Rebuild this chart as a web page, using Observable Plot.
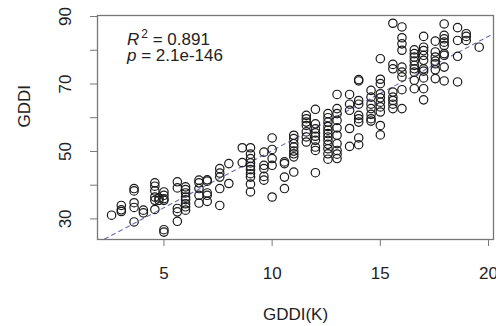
<!DOCTYPE html>
<html><head><meta charset="utf-8">
<script src="https://cdn.jsdelivr.net/npm/d3@7"></script>
<script src="https://cdn.jsdelivr.net/npm/@observablehq/plot@0.6"></script>
<style>body{margin:0;background:#fff} svg{display:block}</style>
</head><body><div id="chart"></div>
<script>
// GDDI(K) levels (x) and the GDDI values observed at each level (y)
const xLevels = [2.58, 3.03, 3.62, 4.05, 4.58, 4.77, 5.0, 5.62, 6.0, 6.62, 7.0, 7.58, 8.0, 8.62, 9.0, 9.62, 10.0, 10.57, 11.0, 11.58, 12.0, 12.58, 13.0, 13.58, 14.0, 14.57, 15.0, 15.58, 16.0, 16.57, 17.0, 17.54, 17.95, 18.57, 18.97, 19.57];
const yValues = [
  [31.1],
  [34.0, 32.7, 32.2],
  [39.0, 38.3, 34.8, 33.4, 29.1],
  [32.6, 31.8],
  [40.7, 39.7, 38.3, 36.5, 35.5, 32.8],
  [36.2, 35.5],
  [38.0, 37.0, 36.0, 35.5, 26.8, 26.1],
  [41.0, 39.2, 33.1, 32.1, 29.3],
  [39.5, 38.7, 37.7, 36.5, 35.7, 34.5, 33.6, 32.6],
  [41.5, 40.7, 39.0, 37.0, 34.7],
  [41.6, 41.2, 37.7, 37.0, 35.2],
  [44.9, 43.6, 42.4, 39.0, 34.0],
  [46.4, 40.5],
  [51.1, 46.7],
  [51.1, 49.2, 47.9, 46.6, 45.6, 44.6, 43.4, 42.4, 40.3, 38.0],
  [49.8, 45.9, 44.9, 42.6, 41.5],
  [54.0, 50.6, 47.9, 45.9, 36.5],
  [46.9, 46.4, 42.4, 39.0],
  [54.8, 53.8, 52.3, 51.3, 50.1, 49.3, 48.4, 43.9],
  [60.7, 59.7, 58.7, 57.7, 55.8, 54.3, 52.8],
  [62.5, 58.2, 56.7, 55.5, 54.5, 53.3, 51.3, 50.3, 43.7],
  [61.2, 60.0, 58.7, 57.4, 56.3, 55.3, 54.3, 53.3, 52.1, 50.8, 49.3, 47.7],
  [66.9, 62.7, 61.2, 59.2, 57.0, 54.8, 52.3, 50.3, 49.2, 47.9],
  [66.9, 64.0, 62.2, 56.8, 51.5],
  [71.3, 70.9, 65.1, 64.0, 60.7, 59.7, 58.7, 54.0, 52.0],
  [68.1, 66.1, 64.0, 62.7, 61.0, 59.7, 59.0],
  [77.5, 71.4, 70.1, 67.1, 65.9, 64.6, 63.2, 61.7, 57.7, 54.9],
  [88.0, 75.8, 74.5, 67.6, 66.1, 65.1, 64.0, 62.7],
  [86.9, 83.7, 81.9, 80.0, 75.0, 73.5, 72.1, 68.3, 62.7],
  [80.1, 79.0, 78.0, 76.8, 75.5, 74.5, 73.5, 71.1, 68.6],
  [84.1, 80.9, 79.9, 78.5, 77.0, 74.5, 73.8, 71.8, 68.6, 65.3],
  [82.7, 79.5, 78.0, 76.8, 76.0, 74.2, 71.6],
  [87.8, 84.4, 83.4, 82.4, 81.4, 79.0, 78.5, 75.0, 70.9],
  [86.7, 82.9, 78.2, 70.6],
  [84.9, 84.1, 82.9],
  [80.9]
];
const xTicks = [5, 10, 15, 20];
const yTicks = [30, 40, 50, 60, 70, 80, 90];
const yTickLabels = [30, 50, 70, 90];
const fitIntercept = 16.4;
const fitSlope = 3.387;
const statR2 = "0.891";
const statP = "2.1e-146";
const xDomain = [1.93, 20.23];
const yDomain = [23.9, 90.3];

const points = xLevels.flatMap((x, i) => yValues[i].map(y => ({x, y})));
const fitLine = xDomain.map(x => ({x, y: fitIntercept + fitSlope * x}));

const ink = "#222";
const boxColor = "#777";

function statsMark(index, scales, values, dims) {
  const g = d3.create("svg:g")
    .attr("font-family", "'Liberation Sans', Arial, sans-serif")
    .attr("font-size", 17).attr("fill", ink).attr("text-anchor", "start");
  const x0 = dims.marginLeft + 30;
  const t1 = g.append("text").attr("x", x0).attr("y", dims.marginTop + 30);
  t1.append("tspan").attr("font-style", "italic").text("R");
  t1.append("tspan").attr("dx", 2).attr("dy", -7).attr("font-size", 12).text("2");
  t1.append("tspan").attr("dy", 7).text(" = " + statR2);
  const t2 = g.append("text").attr("x", x0).attr("y", dims.marginTop + 46);
  t2.append("tspan").attr("font-style", "italic").text("p");
  t2.append("tspan").text(" = " + statP);
  return g.node();
}

const chart = Plot.plot({
  width: 496,
  height: 326,
  marginLeft: 97,
  marginRight: 3,
  marginTop: 15,
  marginBottom: 87,
  style: {fontFamily: "'Liberation Sans', Arial, sans-serif", fontSize: "17px", color: ink, background: "#fff"},
  x: {domain: xDomain},
  y: {domain: yDomain},
  marks: [
    Plot.frame({stroke: boxColor, strokeWidth: 1.3}),
    Plot.line(fitLine, {x: "x", y: "y", stroke: "#6b6bb5", strokeWidth: 1.1, strokeDasharray: "4,4", clip: true}),
    Plot.dot(points, {x: "x", y: "y", r: 4.2, stroke: "#1a1a1a", strokeWidth: 1.2, fill: "none"}),
    Plot.axisX({ticks: xTicks, tickSize: 7, tickPadding: 20, stroke: boxColor, label: null, fontSize: 17, fill: ink}),
    Plot.axisY({ticks: yTicks, tickSize: 7, tickPadding: 20, tickRotate: -90, stroke: boxColor, label: null, fontSize: 17, fill: ink,
      tickFormat: d => yTickLabels.includes(d) ? String(d) : ""}),
    Plot.text(["GDDI(K)"], {text: d => d, frameAnchor: "bottom", dy: 80, lineAnchor: "bottom", fontSize: 17, fill: ink}),
    Plot.text(["GDDI"], {text: d => d, frameAnchor: "left", dx: -73, rotate: -90, fontSize: 17, fill: ink}),
    statsMark
  ]
});
document.getElementById("chart").appendChild(chart);
</script>
</body></html>
